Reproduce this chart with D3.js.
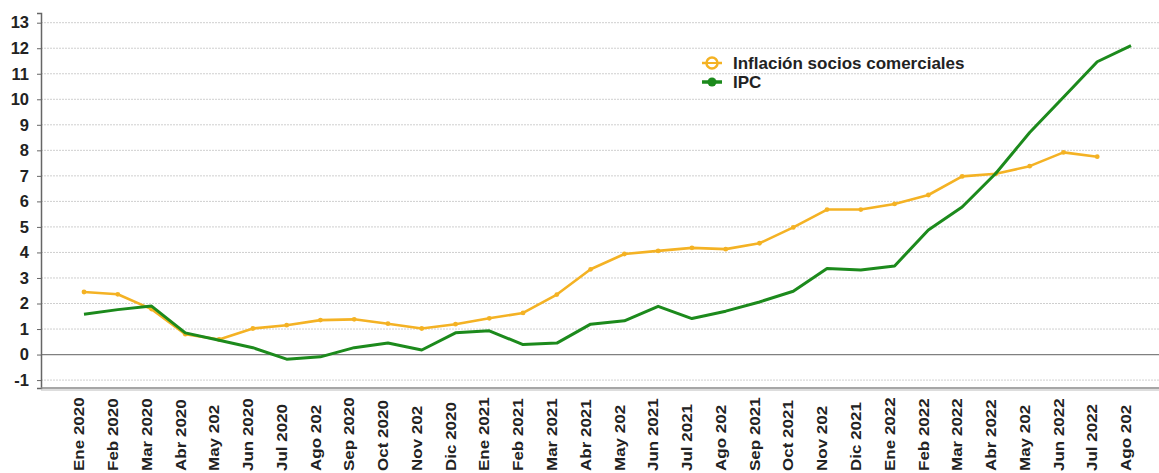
<!DOCTYPE html>
<html><head><meta charset="utf-8">
<script src="https://cdn.jsdelivr.net/npm/d3@7"></script>
<style>body{margin:0;background:#fff}svg{display:block}text{font-family:"Liberation Sans",Arial,sans-serif;font-weight:bold;fill:#222}</style>
</head><body><svg id="c" width="1159" height="473"></svg>
<script>
const categories = ["Ene 2020","Feb 2020","Mar 2020","Abr 2020","May 202","Jun 2020","Jul 2020","Ago 202","Sep 2020","Oct 2020","Nov 202","Dic 2020",
"Ene 2021","Feb 2021","Mar 2021","Abr 2021","May 202","Jun 2021","Jul 2021","Ago 202","Sep 2021","Oct 2021","Nov 202","Dic 2021",
"Ene 2022","Feb 2022","Mar 2022","Abr 2022","May 202","Jun 2022","Jul 2022","Ago 202"];
const sociosValues = [2.45,2.36,1.78,0.8,0.59,1.02,1.15,1.35,1.38,1.21,1.02,1.19,1.42,1.63,2.35,3.34,3.94,4.06,4.18,4.13,4.36,4.98,5.68,5.68,5.9,6.25,6.98,7.08,7.38,7.92,7.75,null];
const ipcValues = [1.58,1.76,1.9,0.85,0.56,0.27,-0.18,-0.09,0.27,0.45,0.18,0.85,0.93,0.39,0.45,1.19,1.32,1.89,1.41,1.7,2.06,2.48,3.37,3.31,3.47,4.88,5.78,7.1,8.7,10.08,11.47,12.1];
const yTicks = [-1,0,1,2,3,4,5,6,7,8,9,10,11,12,13];
const seriesNames = ["Inflación socios comerciales","IPC"];
const colors = {socios:"#F4B224", ipc:"#1C8A1C"};

const svg = d3.select("#c");
const idx = categories.map((c,i)=>i);
const x = d3.scalePoint().domain(idx).range([84,1131]);
const y = d3.scaleLinear().domain([-1.31,13.38]).range([388,13]);

// gridlines
svg.append("g").selectAll("line").data(yTicks.filter(d=>d!==0)).join("line")
  .attr("x1",41).attr("x2",1159).attr("y1",d=>y(d)).attr("y2",d=>y(d))
  .attr("stroke","#cfcfcf").attr("stroke-width",1).attr("stroke-dasharray","2,1");

// zero line
svg.append("line").attr("x1",41).attr("x2",1159).attr("y1",y(0)).attr("y2",y(0))
  .attr("stroke","#808080").attr("stroke-width",1.2);

// y axis
const ya = svg.append("g").attr("transform","translate(41,0)")
  .call(d3.axisLeft(y).tickValues(yTicks).tickSize(4).tickPadding(8).tickFormat(d=>String(d)));
ya.select(".domain").attr("stroke","#666").attr("stroke-width",1.5);
ya.selectAll(".tick line").attr("stroke","#666");
ya.selectAll("text").style("font-size","16.5px").attr("fill","#222");

// x axis line (double)
svg.append("line").attr("x1",41).attr("x2",1159).attr("y1",388).attr("y2",388).attr("stroke","#888").attr("stroke-width",1.5);
svg.append("line").attr("x1",41).attr("x2",1159).attr("y1",390).attr("y2",390).attr("stroke","#bbb").attr("stroke-width",1);

// x labels
svg.append("g").selectAll("text").data(idx).join("text")
  .attr("transform",d=>`translate(${x(d)-5},471) rotate(-90) scale(1,0.85)`)
  .attr("dy","0.36em").attr("text-anchor","start")
  .style("font-size","17px").text(d=>categories[d]);

const line = d3.line().defined(d=>d.v!==null).x(d=>x(d.i)).y(d=>y(d.v));
const sData = idx.map(i=>({i,v:sociosValues[i]}));
const iData = idx.map(i=>({i,v:ipcValues[i]}));

svg.append("path").datum(sData).attr("d",line).attr("fill","none")
  .attr("stroke",colors.socios).attr("stroke-width",2.6).attr("stroke-linejoin","round");
svg.append("g").selectAll("circle").data(sData.filter(d=>d.v!==null)).join("circle")
  .attr("cx",d=>x(d.i)).attr("cy",d=>y(d.v)).attr("r",2.4).attr("fill",colors.socios);
svg.append("path").datum(iData).attr("d",line).attr("fill","none")
  .attr("stroke",colors.ipc).attr("stroke-width",3).attr("stroke-linejoin","round");

// legend
const lg = svg.append("g").attr("transform","translate(712,63)");
lg.append("line").attr("x1",-10).attr("x2",10).attr("y1",0).attr("y2",0).attr("stroke",colors.socios).attr("stroke-width",2.5);
lg.append("circle").attr("r",5.5).attr("fill","#fff").attr("stroke",colors.socios).attr("stroke-width",2.5);
lg.append("line").attr("x1",-6).attr("x2",6).attr("y1",0).attr("y2",0).attr("stroke",colors.socios).attr("stroke-width",2);
lg.append("text").attr("x",21).attr("y",0).attr("dy","0.36em").style("font-size","17px").text(seriesNames[0]);
lg.append("line").attr("x1",-10).attr("x2",10).attr("y1",19).attr("y2",19).attr("stroke",colors.ipc).attr("stroke-width",3.5);
lg.append("circle").attr("cy",19).attr("r",4.5).attr("fill",colors.ipc);
lg.append("text").attr("x",21).attr("y",19).attr("dy","0.36em").style("font-size","17px").text(seriesNames[1]);
</script></body></html>
